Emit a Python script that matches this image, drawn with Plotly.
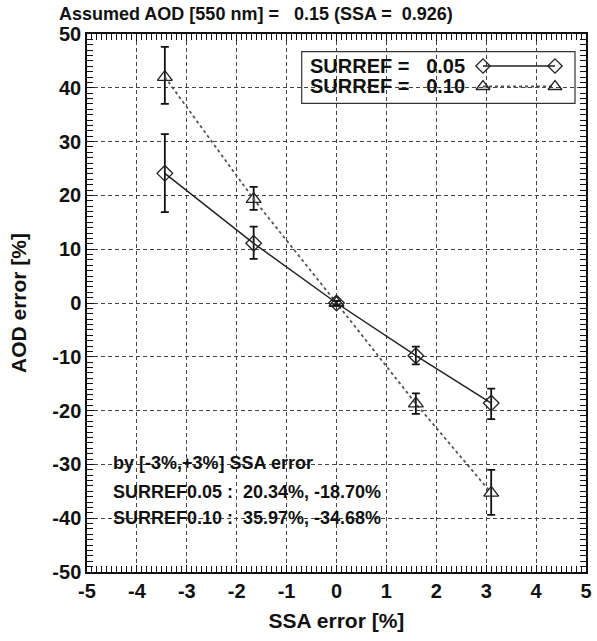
import plotly.graph_objects as go

# ---- data ----
ssa_err = [-3.44, -1.66, 0.0, 1.59, 3.10]
aod_err_005 = [24.1, 11.1, 0.0, -9.8, -18.6]
err_plus_005 = [7.3, 3.1, 0.4, 1.7, 2.7]
err_minus_005 = [7.2, 2.9, 0.4, 1.6, 3.0]

aod_err_010 = [42.0, 19.3, 0.0, -18.7, -35.3]
err_plus_010 = [5.6, 2.3, 0.4, 1.9, 4.3]
err_minus_010 = [5.0, 2.0, 0.4, 1.9, 4.1]

x_ticks = [-5, -4, -3, -2, -1, 0, 1, 2, 3, 4, 5]
y_ticks = [-50, -40, -30, -20, -10, 0, 10, 20, 30, 40, 50]
x_range = [-5, 5]
y_range = [-50, 50]
x_minor_step = 0.1
y_minor_step = 1

title_text = "Assumed AOD [550 nm] =\u00a0\u00a0 0.15 (SSA =\u00a0 0.926)"
legend_labels = ["SURREF =\u00a0\u00a0 0.05", "SURREF =\u00a0\u00a0 0.10"]
note_lines = ["by [-3%,+3%] SSA error",
              "SURREF0.05 :\u00a0 20.34%, -18.70%",
              "SURREF0.10 :\u00a0 35.97%, -34.68%"]

FONT = "Liberation Sans, Arial, sans-serif"
L, R, T, B = 87, 11, 34, 69
W, H = 597, 641
PW, PH = W - L - R, H - T - B


def px2paper(px, py):
    return (px - L) / PW, (H - B - py) / PH


fig = go.Figure()

# empty trace on a same-area subplot whose axes carry the fine (minor) ticks
fig.add_trace(go.Scatter(x=[], y=[], xaxis="x3", yaxis="y3", showlegend=False, hoverinfo="skip"))

fig.add_trace(go.Scatter(
    x=ssa_err, y=aod_err_010, mode="lines+markers",
    line=dict(color="#555555", width=1.8, dash="dot"),
    marker=dict(symbol="triangle-up-open", size=13, color="#222222", line=dict(width=1.3)),
    error_y=dict(type="data", array=err_plus_010, arrayminus=err_minus_010,
                 color="#111111", thickness=1.8, width=4),
    showlegend=False))

fig.add_trace(go.Scatter(
    x=ssa_err, y=aod_err_005, mode="lines+markers",
    line=dict(color="#222222", width=1.5),
    marker=dict(symbol="diamond-open", size=12, color="#222222", line=dict(width=1.3)),
    error_y=dict(type="data", array=err_plus_005, arrayminus=err_minus_005,
                 color="#111111", thickness=1.8, width=4),
    showlegend=False))

# ---- custom legend (IDL style: text left, sample right), in its own small subplot ----
box_px = (301.7, 51.7, 575.0, 103.3)          # left, top, right, bottom in pixels
lx0, ly0 = px2paper(box_px[0], box_px[1])
lx1, ly1 = px2paper(box_px[2], box_px[3])


def px2box(px, py):
    return ((px - box_px[0]) / (box_px[2] - box_px[0]),
            (box_px[3] - py) / (box_px[3] - box_px[1]))


sx0, r1 = px2box(483, 66)
sx1, r2 = px2box(555, 86.5)
leg_rows = [r1, r2]
leg_x = [sx0, sx1]
fig.add_trace(go.Scatter(
    x=leg_x, y=[leg_rows[0]] * 2, mode="lines+markers", xaxis="x2", yaxis="y2",
    line=dict(color="#222222", width=1.5),
    marker=dict(symbol="diamond-open", size=11, color="#222222", line=dict(width=1.3)),
    showlegend=False, hoverinfo="skip", cliponaxis=False))
fig.add_trace(go.Scatter(
    x=leg_x, y=[leg_rows[1]] * 2, mode="lines+markers", xaxis="x2", yaxis="y2",
    line=dict(color="#555555", width=1.8, dash="dot"),
    marker=dict(symbol="triangle-up-open", size=12, color="#222222", line=dict(width=1.3)),
    showlegend=False, hoverinfo="skip", cliponaxis=False))

annotations = []
tx, _ = px2paper(308, 0)
for lbl, py in zip(legend_labels, [66, 86.5]):
    _, yy = px2paper(0, py)
    annotations.append(dict(x=tx, y=yy, xref="paper", yref="paper", text="<b>%s</b>" % lbl,
                            showarrow=False, xanchor="left", yanchor="middle",
                            font=dict(family=FONT, size=20, color="#111111")))
nx, _ = px2paper(111, 0)
for txt, py in zip(note_lines, [463, 491.5, 518]):
    _, yy = px2paper(0, py)
    annotations.append(dict(x=nx, y=yy, xref="paper", yref="paper", text="<b>%s</b>" % txt,
                            showarrow=False, xanchor="left", yanchor="middle",
                            font=dict(family=FONT, size=18, color="#111111")))
ttx, tty = px2paper(57, 14)
annotations.append(dict(x=ttx, y=tty, xref="paper", yref="paper",
                        text="<b>%s</b>" % title_text, showarrow=False,
                        xanchor="left", yanchor="middle",
                        font=dict(family=FONT, size=18, color="#111111")))

axis_common = dict(
    showline=True, linecolor="#111111", linewidth=1.5, mirror="allticks",
    ticks="inside", ticklen=7, tickcolor="#111111", tickwidth=1,
    showgrid=True, gridcolor="#444444", gridwidth=1.2, griddash="4px,3px",
    zeroline=False, automargin=False, tickmode="array",
    tickfont=dict(family=FONT, size=20, color="#111111", weight="bold"),
)
fine_common = dict(
    domain=[0, 1], showline=False, ticks="inside", ticklen=6, tickwidth=1, tickcolor="#111111",
    showgrid=False, zeroline=False, showticklabels=False, automargin=False,
    tickmode="linear", mirror="allticks", fixedrange=True,
)

fig.update_layout(
    width=W, height=H,
    margin=dict(l=L, r=R, t=T, b=B, autoexpand=False),
    paper_bgcolor="white", plot_bgcolor="rgba(0,0,0,0)",
    showlegend=False,
    xaxis=dict(range=x_range, tickvals=x_ticks, ticktext=[str(v) for v in x_ticks],
               title=dict(text="<b>SSA error [%]</b>", font=dict(family=FONT, size=21, color="#111111"),
                          standoff=13),
               **axis_common),
    yaxis=dict(range=y_range, tickvals=y_ticks, ticktext=[str(v) for v in y_ticks],
               title=dict(text="<b>AOD error [%]</b>", font=dict(family=FONT, size=21, color="#111111"),
                          standoff=20),
               **axis_common),
    xaxis3=dict(range=x_range, anchor="y3", tick0=x_range[0], dtick=x_minor_step, **fine_common),
    yaxis3=dict(range=y_range, anchor="x3", tick0=y_range[0], dtick=y_minor_step, **fine_common),
    xaxis2=dict(domain=[lx0, lx1], range=[0, 1], anchor="y2", visible=False, fixedrange=True),
    yaxis2=dict(domain=[ly1, ly0], range=[0, 1], anchor="x2", visible=False, fixedrange=True),
    annotations=annotations,
    shapes=[dict(type="rect", xref="paper", yref="paper", x0=lx0, x1=lx1, y0=ly1, y1=ly0,
                 line=dict(color="#333333", width=1.2), fillcolor="rgba(255,255,255,0)")],
)

fig.write_html("out.html", config={"displayModeBar": False},
               post_script="document.body.style.margin='0';document.body.style.padding='0';")
